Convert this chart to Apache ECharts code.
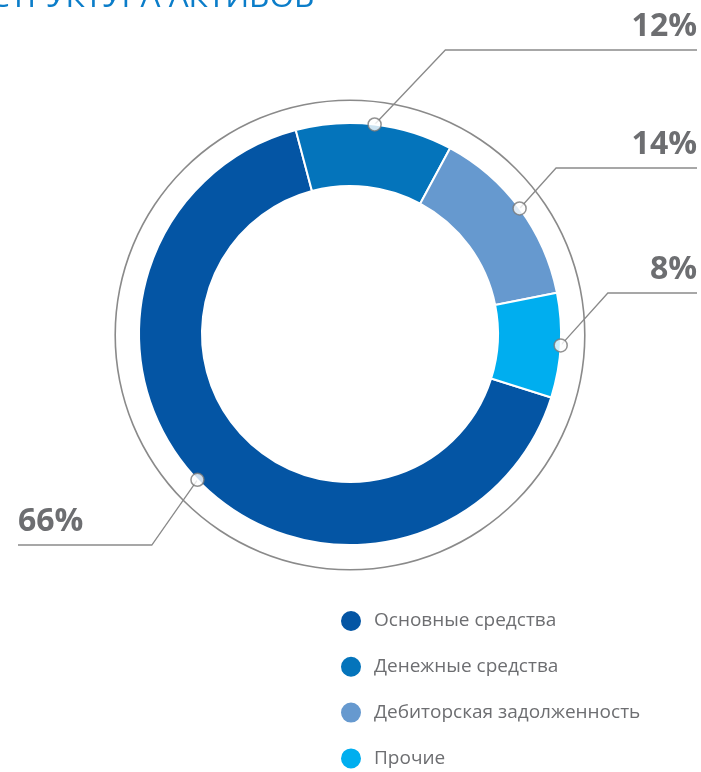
<!DOCTYPE html>
<html>
<head>
<meta charset="utf-8">
<script src="https://cdn.jsdelivr.net/npm/echarts@6/dist/echarts.min.js"></script>
<style>
html,body{margin:0;padding:0;background:#fff;}
#chart{width:701px;height:772px;}
</style>
</head>
<body>
<div id="chart"></div>
<script>
const titleText = 'СТРУКТУРА АКТИВОВ';
const categories = ['Основные средства', 'Денежные средства', 'Дебиторская задолженность', 'Прочие'];
const shares = [66, 12, 14, 8];
const colors = ['#0455a4', '#0474bb', '#6699cf', '#00aeef'];

// label placement config (layout, not data)
const labelCfg = [
  { side: 'left',  elbowY: 545, slope: 0.7 },
  { side: 'right', elbowY: 50,  slope: 0.95 },
  { side: 'right', elbowY: 168, slope: 0.9 },
  { side: 'right', elbowY: 293, slope: 0.9 }
];

const START = -17.5;
const CX = 350, CY = 334;

const total = shares.reduce((a, b) => a + b, 0);
let acc = 0;
const dotData = shares.map(v => { const m = acc + v / 2; acc += v; return [1, m]; });

const chart = echarts.init(document.getElementById('chart'), null, { renderer: 'canvas' });
chart.setOption({
  animation: false,
  backgroundColor: '#ffffff',
  color: colors,
  graphic: [{
    type: 'text', left: -10, top: -18, z: 10,
    style: { text: titleText, font: '31.5px "Open Sans"', fill: '#0b7dc9' }
  }],
  legend: {
    data: categories,
    orient: 'vertical',
    left: 339, top: 609, height: 170, padding: 0,
    itemWidth: 22, itemHeight: 22, itemGap: 21.8,
    icon: 'circle',
    textStyle: { fontFamily: 'Open Sans', fontSize: 19, lineHeight: 22, color: '#6d6e71', padding: [0, 0, 0, 7] },
    selectedMode: false
  },
  polar: { center: [CX, CY], radius: 211 },
  angleAxis: {
    type: 'value', min: 0, max: total, startAngle: START, clockwise: true,
    axisLine: { show: false }, axisTick: { show: false }, axisLabel: { show: false }, splitLine: { show: false }
  },
  radiusAxis: {
    type: 'value', min: 0, max: 1,
    axisLine: { show: false }, axisTick: { show: false }, axisLabel: { show: false }, splitLine: { show: false }
  },
  series: [
    {
      type: 'pie', name: 'ring', silent: true, center: [CX, CY + 1], radius: [234, 235.6],
      startAngle: 90, label: { show: false }, labelLine: { show: false },
      itemStyle: { color: '#8a8a8a' }, data: [{ value: 1, name: 'ring' }], z: 1,
      emphasis: { disabled: true }
    },
    {
      type: 'pie', name: 'Структура активов', center: [CX, CY], radius: [148, 211],
      startAngle: START, clockwise: true, avoidLabelOverlap: false, z: 2,
      itemStyle: { borderColor: '#ffffff', borderWidth: 2 },
      data: categories.map((n, i) => ({ name: n, value: shares[i], itemStyle: { color: colors[i] } })),
      label: {
        show: true, formatter: '{c}%', fontFamily: 'Open Sans', fontWeight: 'bold',
        fontSize: 32, color: '#6d6e71'
      },
      labelLine: { show: true, lineStyle: { color: '#8a8a8a', width: 1.3 } },
      labelLayout: function (p) {
        const cfg = labelCfg[p.dataIndex];
        const pts = p.labelLinePoints;
        const d = pts[0];
        const dy = Math.abs(cfg.elbowY - d[1]);
        if (cfg.side === 'right') {
          const ex = d[0] + dy * cfg.slope;
          return {
            x: 697, y: cfg.elbowY - 23, align: 'right', verticalAlign: 'middle',
            labelLinePoints: [d, [ex, cfg.elbowY], [697, cfg.elbowY]]
          };
        } else {
          const ex = d[0] - dy * cfg.slope;
          return {
            x: 18, y: cfg.elbowY - 23, align: 'left', verticalAlign: 'middle',
            labelLinePoints: [d, [ex, cfg.elbowY], [18, cfg.elbowY]]
          };
        }
      },
      emphasis: { disabled: true }
    },
    {
      type: 'scatter', name: 'dots', coordinateSystem: 'polar', z: 5,
      symbol: 'circle', symbolSize: 13, silent: true,
      itemStyle: { color: '#ffffff', borderColor: '#777777', borderWidth: 1.5 },
      data: dotData
    }
  ]
});
</script>
</body>
</html>
